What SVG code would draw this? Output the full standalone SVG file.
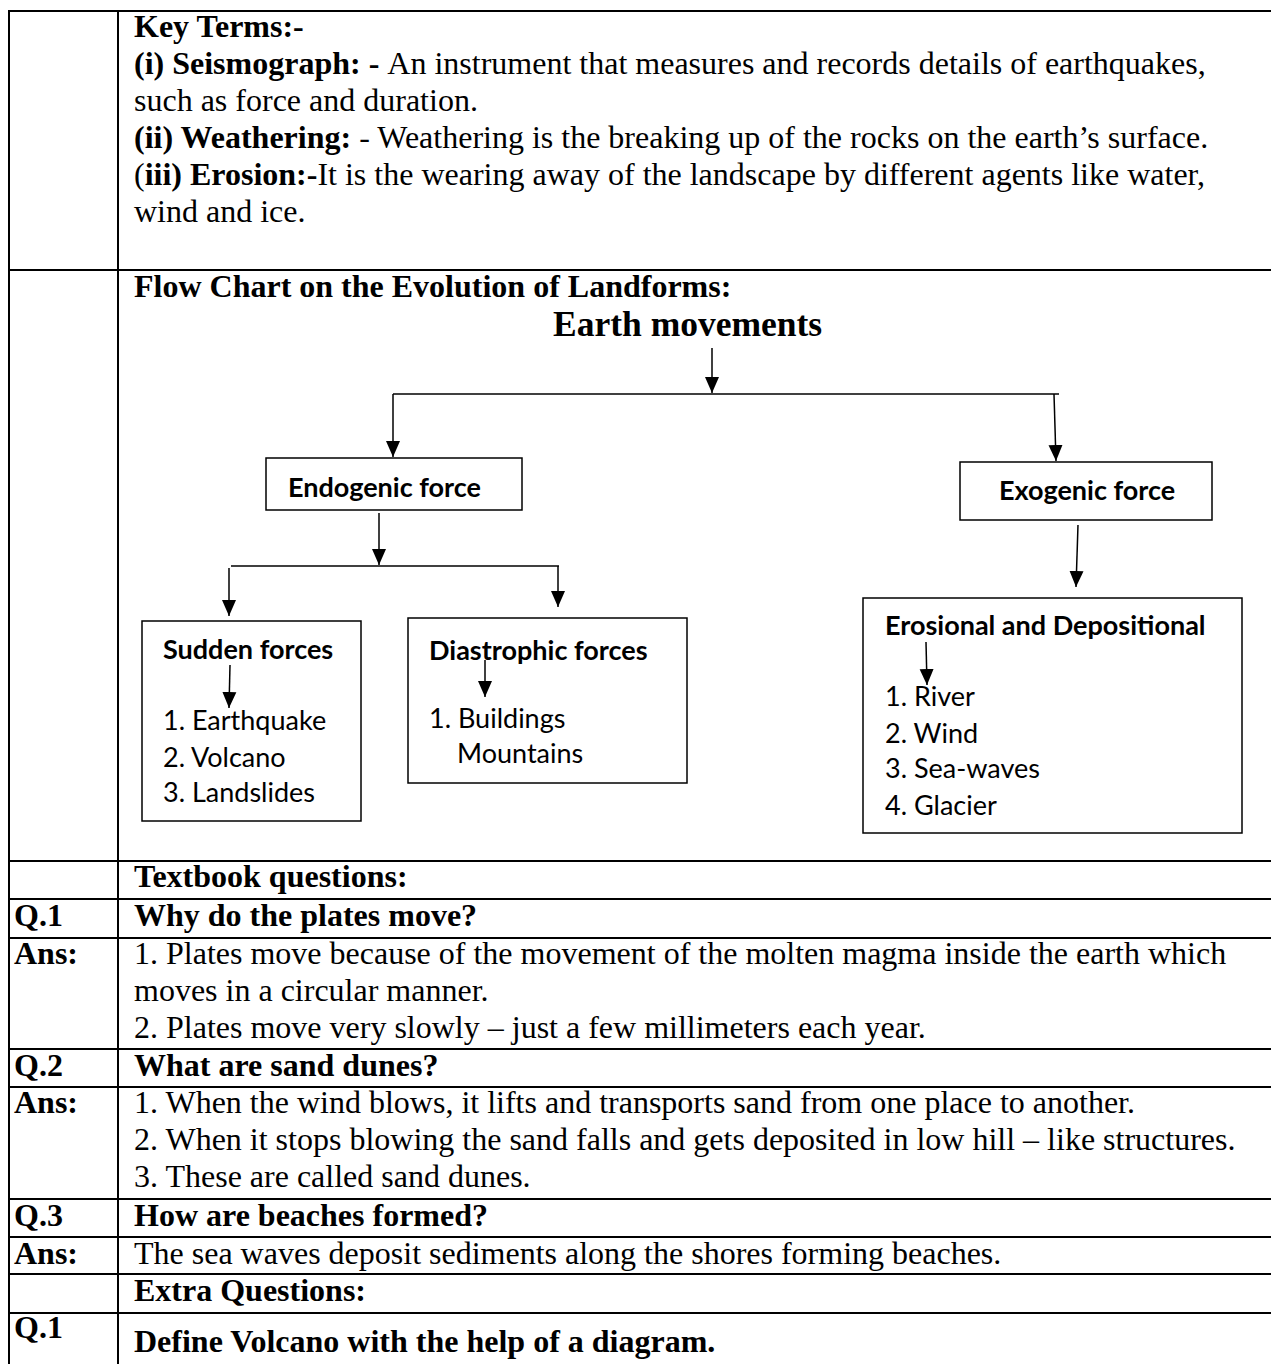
<svg xmlns="http://www.w3.org/2000/svg" width="1271" height="1364" viewBox="0 0 1271 1364">
<defs>
<style>
.t{font-family:"Liberation Serif","Times New Roman",serif;font-size:32px;fill:#000}
.b{font-weight:bold}
.c{font-family:Lato,"Open Sans",sans-serif;font-size:27px;fill:#000}
.grid{stroke:#000;stroke-width:2;fill:none}
.box{stroke:#000;stroke-width:1.5;fill:#fff}
.ln{stroke:#000;stroke-width:1.5;fill:none}
</style>
<marker id="ah" markerUnits="userSpaceOnUse" markerWidth="16" markerHeight="16" viewBox="0 0 16 16" refX="16" refY="8" orient="auto">
<path d="M0,1 L16,8 L0,15 z" fill="#000"/>
</marker>
</defs>
<rect width="1271" height="1364" fill="#fff"/>
<g id="table" class="grid">
<line x1="9" y1="11" x2="1271" y2="11"/>
<line x1="9" y1="270" x2="1271" y2="270"/>
<line x1="9" y1="861" x2="1271" y2="861"/>
<line x1="9" y1="899" x2="1271" y2="899"/>
<line x1="9" y1="938" x2="1271" y2="938"/>
<line x1="9" y1="1049" x2="1271" y2="1049"/>
<line x1="9" y1="1087" x2="1271" y2="1087"/>
<line x1="9" y1="1199" x2="1271" y2="1199"/>
<line x1="9" y1="1237" x2="1271" y2="1237"/>
<line x1="9" y1="1274" x2="1271" y2="1274"/>
<line x1="9" y1="1313" x2="1271" y2="1313"/>
<line x1="9" y1="10" x2="9" y2="1364"/>
<line x1="118" y1="10" x2="118" y2="1364"/>
</g>
<g id="key-terms" class="t">
<text x="134" y="37" class="b">Key Terms:-</text>
<text x="134" y="74"><tspan class="b">(i) Seismograph: - </tspan>An instrument that measures and records details of earthquakes,</text>
<text x="134" y="111">such as force and duration.</text>
<text x="134" y="148"><tspan class="b">(ii) Weathering:</tspan> - Weathering is the breaking up of the rocks on the earth’s surface.</text>
<text x="134" y="185">(<tspan class="b">iii) Erosion:-</tspan>It is the wearing away of the landscape by different agents like water,</text>
<text x="134" y="222">wind and ice.</text>
</g>
<g id="flow-title" class="t b">
<text x="134" y="297">Flow Chart on the Evolution of Landforms:</text>
<text x="553" y="336" style="font-size:35.5px">Earth movements</text>
</g>
<g id="connectors">
<line class="ln" x1="712" y1="348" x2="712" y2="393" marker-end="url(#ah)"/>
<line class="ln" x1="393" y1="394" x2="1059" y2="394"/>
<line class="ln" x1="393" y1="394" x2="393" y2="457" marker-end="url(#ah)"/>
<line class="ln" x1="1054" y1="394" x2="1056" y2="461" marker-end="url(#ah)"/>
<line class="ln" x1="379" y1="513" x2="379" y2="565" marker-end="url(#ah)"/>
<line class="ln" x1="231" y1="566" x2="559" y2="566"/>
<line class="ln" x1="229" y1="568" x2="229" y2="616" marker-end="url(#ah)"/>
<line class="ln" x1="558" y1="566" x2="558" y2="607" marker-end="url(#ah)"/>
<line class="ln" x1="1078" y1="525" x2="1076" y2="587" marker-end="url(#ah)"/>
</g>
<g id="endogenic">
<rect class="box" x="266" y="458" width="256" height="52"/>
<text class="c b" x="288" y="497">Endogenic force</text>
</g>
<g id="exogenic">
<rect class="box" x="960" y="462" width="252" height="58"/>
<text class="c b" x="999" y="500">Exogenic force</text>
</g>
<g id="sudden">
<rect class="box" x="142" y="621" width="219" height="200"/>
<text class="c b" x="163" y="659">Sudden forces</text>
<line class="ln" x1="230" y1="665" x2="229" y2="708" marker-end="url(#ah)"/>
<text class="c" x="163" y="730">1. Earthquake</text>
<text class="c" x="163" y="767">2. Volcano</text>
<text class="c" x="163" y="802">3. Landslides</text>
</g>
<g id="diastrophic">
<rect class="box" x="408" y="618" width="279" height="165"/>
<text class="c b" x="429" y="660">Diastrophic forces</text>
<line class="ln" x1="485" y1="660" x2="485" y2="697" marker-end="url(#ah)"/>
<text class="c" x="429" y="728">1. Buildings</text>
<text class="c" x="457" y="763">Mountains</text>
</g>
<g id="erosional">
<rect class="box" x="863" y="598" width="379" height="235"/>
<text class="c b" x="885" y="635">Erosional and Depositional</text>
<line class="ln" x1="926" y1="642" x2="927" y2="685" marker-end="url(#ah)"/>
<text class="c" x="885" y="706">1. River</text>
<text class="c" x="885" y="743">2. Wind</text>
<text class="c" x="885" y="778">3. Sea-waves</text>
<text class="c" x="885" y="815">4. Glacier</text>
</g>
<g id="questions" class="t">
<text x="134" y="887" class="b">Textbook questions:</text>
<text x="14" y="926" class="b">Q.1</text>
<text x="134" y="926" class="b">Why do the plates move?</text>
<text x="14" y="964" class="b">Ans:</text>
<text x="134" y="964">1. Plates move because of the movement of the molten magma inside the earth which</text>
<text x="134" y="1001">moves in a circular manner.</text>
<text x="134" y="1038">2. Plates move very slowly – just a few millimeters each year.</text>
<text x="14" y="1076" class="b">Q.2</text>
<text x="134" y="1076" class="b">What are sand dunes?</text>
<text x="14" y="1113" class="b">Ans:</text>
<text x="134" y="1113">1. When the wind blows, it lifts and transports sand from one place to another.</text>
<text x="134" y="1150">2. When it stops blowing the sand falls and gets deposited in low hill – like structures.</text>
<text x="134" y="1187">3. These are called sand dunes.</text>
<text x="14" y="1226" class="b">Q.3</text>
<text x="134" y="1226" class="b">How are beaches formed?</text>
<text x="14" y="1264" class="b">Ans:</text>
<text x="134" y="1264">The sea waves deposit sediments along the shores forming beaches.</text>
<text x="134" y="1301" class="b">Extra Questions:</text>
<text x="14" y="1338" class="b">Q.1</text>
<text x="134" y="1352" class="b">Define Volcano with the help of a diagram.</text>
</g>
</svg>
